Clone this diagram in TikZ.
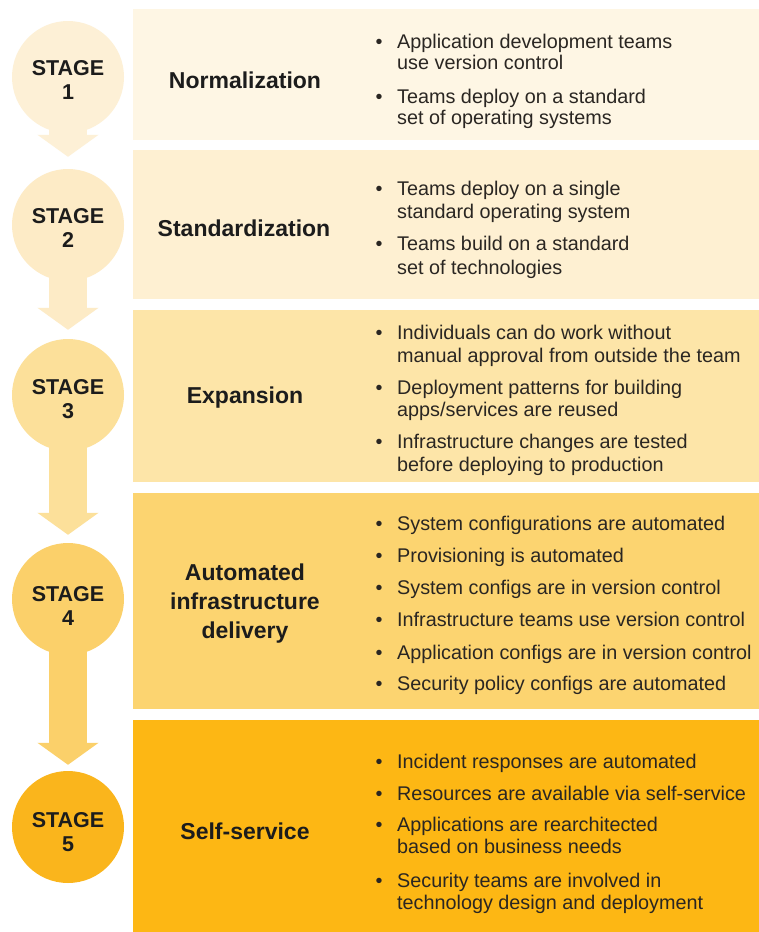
\documentclass[tikz,border=0pt]{standalone}
\usepackage{fontspec}
\setmainfont{Liberation Sans}
\usetikzlibrary{arrows.meta,backgrounds}
\definecolor{bandA}{HTML}{FEF6E4}
\definecolor{circA}{HTML}{FDF0D6}
\definecolor{bandB}{HTML}{FEF0D2}
\definecolor{circB}{HTML}{FDEBC6}
\definecolor{bandC}{HTML}{FDE5A8}
\definecolor{circC}{HTML}{FCE09A}
\definecolor{bandD}{HTML}{FCD470}
\definecolor{circD}{HTML}{FBD06A}
\definecolor{bandE}{HTML}{FDB714}
\definecolor{circE}{HTML}{FAB51C}
\definecolor{ink}{HTML}{1C1C1C}
\definecolor{bodyink}{HTML}{2A2622}
\begin{document}
\begin{tikzpicture}[x=1pt,y=-1pt,
  stagecirc/.style={circle,minimum size=112pt,inner sep=0pt},
  stagetext/.style={font=\fontsize{21.5}{24}\selectfont\bfseries,text=ink,align=center,inner sep=0pt},
  title/.style={font=\fontsize{23}{29}\selectfont\bfseries,text=ink,align=center,inner sep=0pt},
  btext/.style={font=\fontsize{19.8}{22}\selectfont,text=bodyink,inner sep=0pt},
  flow/.style={line width=38pt,-{Triangle[width=60pt,length=22pt]}}]
\useasboundingbox (0,0) rectangle (759,932);
\newcommand{\bl}[3]{\node[btext,anchor=base west] (#1) at (397,#2+7) {#3};}
\newcommand{\bd}[2]{\node[btext,anchor=base] (#1) at (379,#2+7) {•};}
% bands
\fill[bandA] (133,9) rectangle (759,140) coordinate (bA);
\fill[bandB] (133,150) rectangle (759,299) coordinate (bB);
\fill[bandC] (133,310) rectangle (759,482) coordinate (bC);
\fill[bandD] (133,493) rectangle (759,709) coordinate (bD);
\fill[bandE] (133,720) rectangle (759,932) coordinate (bE);
% circles
\node[stagecirc,fill=circA] (s1) at (68,77) {};
\node[stagecirc,fill=circB] (s2) at (68,225) {};
\node[stagecirc,fill=circC] (s3) at (68,395) {};
\node[stagecirc,fill=circD] (s4) at (68,599) {};
\node[stagecirc,fill=circE] (s5) at (68,827) {};
\node[stagetext] (t1) at (68,80) {STAGE\\1};
\node[stagetext] (t2) at (68,228) {STAGE\\2};
\node[stagetext] (t3) at (68,399) {STAGE\\3};
\node[stagetext] (t4) at (68,606) {STAGE\\4};
\node[stagetext] (t5) at (68,832) {STAGE\\5};
\begin{scope}[on background layer]
\fill[white] (0,0) rectangle (759,932);
\draw[flow,draw=circA,shorten >=12pt] (s1.center) -- (s2.north);
\draw[flow,draw=circB,shorten >=9pt] (s2.center) -- (s3.north);
\draw[flow,draw=circC,shorten >=8pt] (s3.center) -- (s4.north);
\draw[flow,draw=circD,shorten >=6pt] (s4.center) -- (s5.north);
\end{scope}
% titles
\node[title] (n1) at (245,80) {Normalization};
\node[title] (n2) at (244,228) {Standardization};
\node[title] (n3) at (245,398) {Expansion};
\node[title] (n4) at (245,604) {Automated\\infrastructure\\delivery};
\node[title] (n5) at (245,831) {Self-service};
% band 1
\bd{d11}{41}\bl{l11}{41}{Application development teams}
\bl{l12}{62}{use version control}
\bd{d12}{96}\bl{l13}{96}{Teams deploy on a standard}
\bl{l14}{117}{set of operating systems}
% band 2
\bd{d21}{188}\bl{l21}{188}{Teams deploy on a single}
\bl{l22}{211}{standard operating system}
\bd{d22}{243}\bl{l23}{243}{Teams build on a standard}
\bl{l24}{267}{set of technologies}
% band 3
\bd{d31}{332}\bl{l31}{332}{Individuals can do work without}
\bl{l32}{355}{manual approval from outside the team}
\bd{d32}{387}\bl{l33}{387}{Deployment patterns for building}
\bl{l34}{409}{apps/services are reused}
\bd{d33}{441}\bl{l35}{441}{Infrastructure changes are tested}
\bl{l36}{464}{before deploying to production}
% band 4
\bd{d41}{523}\bl{l41}{523}{System configurations are automated}
\bd{d42}{555}\bl{l42}{555}{Provisioning is automated}
\bd{d43}{587}\bl{l43}{587}{System configs are in version control}
\bd{d44}{619}\bl{l44}{619}{Infrastructure teams use version control}
\bd{d45}{652}\bl{l45}{652}{Application configs are in version control}
\bd{d46}{683}\bl{l46}{683}{Security policy configs are automated}
% band 5
\bd{d51}{761}\bl{l51}{761}{Incident responses are automated}
\bd{d52}{793}\bl{l52}{793}{Resources are available via self-service}
\bd{d53}{824}\bl{l53}{824}{Applications are rearchitected}
\bl{l54}{846}{based on business needs}
\bd{d54}{880}\bl{l55}{880}{Security teams are involved in}
\bl{l56}{902}{technology design and deployment}
\end{tikzpicture}
\end{document}
